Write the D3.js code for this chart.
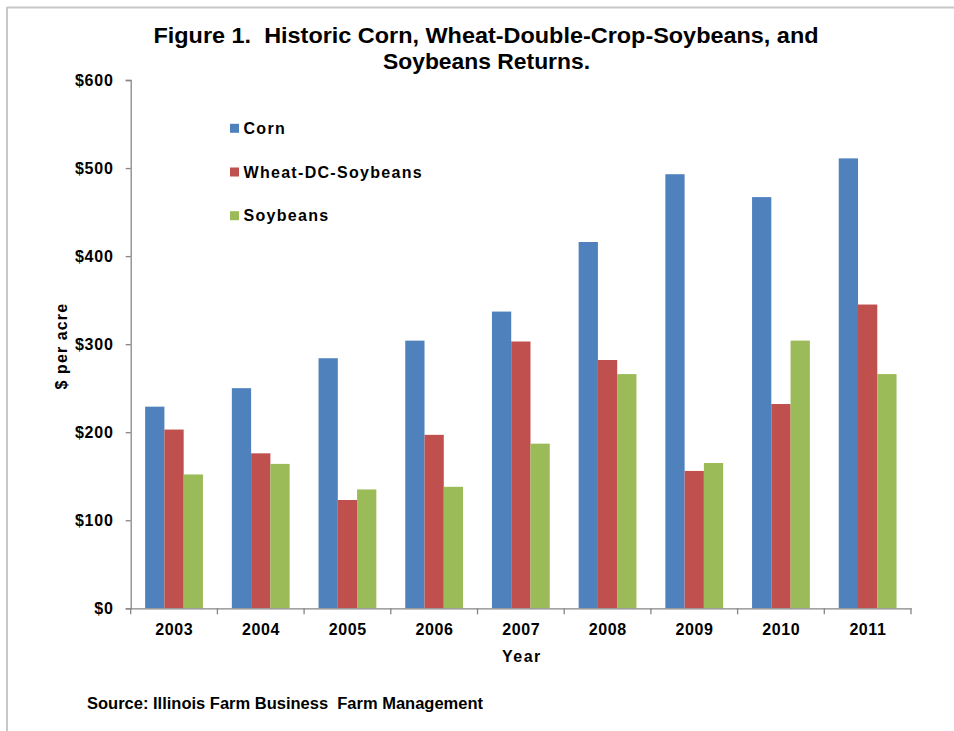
<!DOCTYPE html>
<html>
<head>
<meta charset="utf-8">
<script src="https://cdn.jsdelivr.net/npm/d3@7"></script>
<style>
  body { margin: 0; background: #fff; }
  text { font-family: "Liberation Sans", Arial, sans-serif; font-weight: bold; fill: #000; }
</style>
</head>
<body>
<div id="main"></div>
<script>
const years = ["2003", "2004", "2005", "2006", "2007", "2008", "2009", "2010", "2011"];
const seriesNames = ["Corn", "Wheat-DC-Soybeans", "Soybeans"];
const corn = [229, 250, 284, 304, 337, 416, 493, 467, 511];
const wheatDC = [203, 176, 123, 197, 303, 282, 156, 232, 345];
const soybeans = [152, 164, 135, 138, 187, 266, 165, 304, 266];
const yTicks = [0, 100, 200, 300, 400, 500, 600];
const colors = ["#4f81bd", "#c0504d", "#9bbb59"];

const ctx = {
    w: 954,
    h: 731,
    left: 130.7,
    right: 911,
    top: 80,
    bottom: 608.3,
};

const series = [corn, wheatDC, soybeans];

function createViz(){
    let svgEl = d3.select("#main").append("svg")
        .attr("width", ctx.w)
        .attr("height", ctx.h);

    // frame remains (top + left edge only)
    svgEl.append("line")
        .attr("x1", 7).attr("x2", ctx.w).attr("y1", 7.5).attr("y2", 7.5)
        .attr("stroke", "#c8c8c8").attr("stroke-width", 2);
    svgEl.append("line")
        .attr("x1", 7).attr("x2", 7).attr("y1", 7).attr("y2", ctx.h)
        .attr("stroke", "#c8c8c8").attr("stroke-width", 2);

    let x = d3.scaleBand()
        .domain(years)
        .range([ctx.left, ctx.right])
        .paddingInner(0)
        .paddingOuter(0);
    let y = d3.scaleLinear()
        .domain([0, 600])
        .range([ctx.bottom, ctx.top]);
    // excel style gap width 150%
    let barW = x.bandwidth() / 4.5;
    let x1 = d3.scaleBand()
        .domain(seriesNames)
        .range([barW * 0.75, barW * 3.75]);

    // bars
    let groups = svgEl.append("g").attr("id", "bars")
        .selectAll("g")
        .data(seriesNames)
        .enter()
        .append("g")
        .attr("fill", (d, i) => colors[i]);
    groups.selectAll("rect")
        .data((d, i) => years.map((yr, j) => ({year: yr, name: d, value: series[i][j]})))
        .enter()
        .append("rect")
        .attr("x", d => x(d.year) + x1(d.name))
        .attr("width", x1.bandwidth())
        .attr("y", d => y(d.value))
        .attr("height", d => y(0) - y(d.value));

    // y axis
    let yAxis = svgEl.append("g")
        .attr("transform", `translate(${ctx.left},0)`)
        .call(d3.axisLeft(y).tickValues(yTicks).tickSize(5).tickPadding(12)
              .tickFormat(d => "$" + d));
    // x axis
    let xAxis = svgEl.append("g")
        .attr("transform", `translate(0,${ctx.bottom})`)
        .call(d3.axisBottom(x).tickSize(0).tickPadding(16));
    xAxis.selectAll(".tick").remove();
    let edges = years.map(d => x(d)).concat([ctx.right]);
    xAxis.selectAll("line.sep")
        .data(edges)
        .enter()
        .append("line")
        .attr("class", "sep")
        .attr("x1", d => d).attr("x2", d => d)
        .attr("y1", 0).attr("y2", 6);
    xAxis.selectAll("text.lab")
        .data(years)
        .enter()
        .append("text")
        .attr("class", "lab")
        .attr("x", d => x(d) + x.bandwidth() / 2 + 0.3)
        .attr("y", 26.5)
        .attr("text-anchor", "middle")
        .text(d => d);

    [yAxis, xAxis].forEach(a => {
        a.selectAll("path.domain").attr("stroke", "#868686").attr("stroke-width", 1.3);
        a.selectAll("line").attr("stroke", "#868686").attr("stroke-width", 1.3);
        a.selectAll("text").style("font-size", "16px").style("font-family", "'Liberation Sans', Arial, sans-serif")
            .style("font-weight", "bold").style("letter-spacing", "0.6px").attr("fill", "#000");
    });
    yAxis.selectAll("text").attr("dy", "0.35em").style("letter-spacing", "0.8px");

    // titles
    let title = svgEl.append("g").style("font-size", "22px");
    title.append("text").attr("x", 486).attr("y", 43)
        .attr("text-anchor", "middle")
        .attr("textLength", 665).attr("lengthAdjust", "spacingAndGlyphs")
        .text("Figure 1.  Historic Corn, Wheat-Double-Crop-Soybeans, and")
        .style("white-space", "pre");
    title.append("text").attr("x", 486.5).attr("y", 69)
        .attr("text-anchor", "middle")
        .attr("textLength", 207).attr("lengthAdjust", "spacingAndGlyphs")
        .text("Soybeans Returns.");

    svgEl.append("text")
        .attr("x", (ctx.left + ctx.right) / 2 + 1)
        .attr("y", 662)
        .attr("text-anchor", "middle")
        .style("font-size", "16px")
        .style("letter-spacing", "1.5px")
        .text("Year");

    svgEl.append("text")
        .attr("transform", `translate(67,${(ctx.top + ctx.bottom) / 2 + 2}) rotate(-90)`)
        .attr("text-anchor", "middle")
        .style("font-size", "16px")
        .style("letter-spacing", "1.1px")
        .text("$ per acre");

    svgEl.append("text")
        .attr("x", 87)
        .attr("y", 709)
        .style("font-size", "16px")
        .attr("textLength", 396).attr("lengthAdjust", "spacingAndGlyphs")
        .text("Source: Illinois Farm Business  Farm Management")
        .style("white-space", "pre");

    // legend
    let legend = svgEl.append("g").attr("id", "legend")
        .selectAll("g")
        .data(seriesNames)
        .enter()
        .append("g")
        .attr("transform", (d, i) => `translate(230,${128.3 + i * 43.7})`);
    legend.append("rect")
        .attr("x", 0).attr("y", -4.5)
        .attr("width", 9).attr("height", 9)
        .attr("fill", (d, i) => colors[i]);
    legend.append("text")
        .attr("x", 13.5)
        .attr("dy", "0.36em")
        .style("font-size", "16px")
        .style("letter-spacing", "1.3px")
        .text(d => d);
}

createViz();
</script>
</body>
</html>
